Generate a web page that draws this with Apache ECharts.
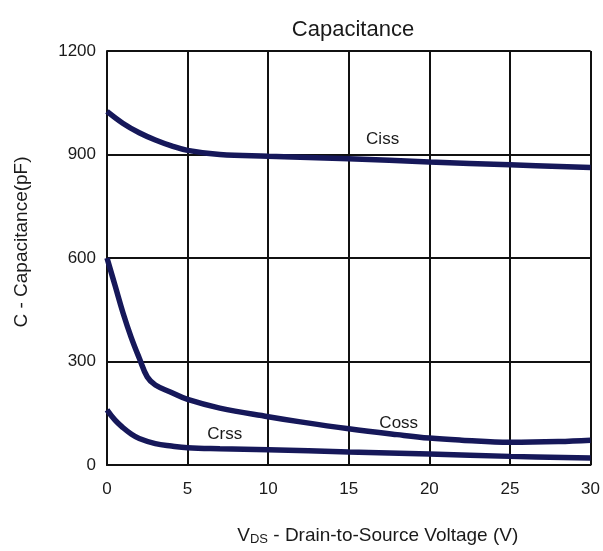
<!DOCTYPE html>
<html lang="en">
<head>
    <meta charset="UTF-8">
    <title>Capacitance</title>
    <style>
        html, body { margin: 0; padding: 0; background: #fff; }
        #chart { width: 603px; height: 551px; }
    </style>
</head>
<body>
    <div id="chart"></div>
    <script src="https://cdn.jsdelivr.net/npm/echarts@6/dist/echarts.min.js"></script>
    <script>
        // values (Vds in V, capacitance in pF)
        let cissData = [[0, 1025], [1, 990], [2, 963], [3, 942], [4, 925], [5, 912], [7, 900], [10, 895], [15, 888], [20, 878], [25, 870], [30, 862]];
        let cossData = [[0, 600], [0.5, 520], [1, 440], [1.5, 370], [2, 310], [2.5, 255], [3, 232], [4, 210], [5, 190], [7, 165], [10, 140], [12, 125], [15, 105], [18, 88], [20, 78], [22, 72], [25, 66], [28, 68], [30, 72]];
        let crssData = [[0, 160], [0.5, 130], [1, 108], [1.5, 90], [2, 77], [3, 62], [4, 55], [5, 50], [7, 47], [10, 44], [15, 38], [20, 32], [25, 25], [30, 20]];
        let curveLabels = [
            { name: 'Ciss', at: [17.1, 943] },
            { name: 'Coss', at: [18.1, 122] },
            { name: 'Crss', at: [7.3, 88] }
        ];

        let font = 'Liberation Sans, Arial, sans-serif';
        let lineColor = '#16185a';
        let textColor = '#1a1a1a';

        let myChart = echarts.init(document.getElementById('chart'));

        let makeSeries = (name, data) => {
            let lbl = curveLabels.find(l => l.name === name);
            return {
                name: name,
                type: 'line',
                data: data,
                smooth: 0.4,
                showSymbol: false,
                lineStyle: { color: lineColor, width: 5.5 },
                markPoint: {
                    symbol: 'circle',
                    symbolSize: 0,
                    label: {
                        show: true,
                        formatter: name,
                        color: textColor,
                        fontSize: 17,
                        fontFamily: font
                    },
                    data: [{ coord: lbl.at }]
                }
            };
        };

        myChart.setOption({
            animation: false,
            title: {
                text: 'Capacitance',
                left: 348,
                textAlign: 'center',
                top: 14,
                textStyle: { fontSize: 22, fontWeight: 'normal', color: textColor, fontFamily: font }
            },
            grid: { left: 107, right: 12, top: 51, bottom: 83 },
            xAxis: {
                type: 'value',
                min: 0,
                max: 30,
                interval: 5,
                name: '{t|V}{s|DS}{t| - Drain-to-Source Voltage (V)}',
                nameLocation: 'middle',
                nameGap: 61,
                nameTextStyle: {
                    padding: [0, 0, 0, 58],
                    rich: {
                        t: { fontSize: 19, color: textColor, fontFamily: font },
                        s: { fontSize: 13, color: textColor, fontFamily: font, verticalAlign: 'bottom', padding: [7, 0, 0, 0] }
                    }
                },
                axisLine: { show: true, onZero: false, lineStyle: { color: '#111', width: 2 } },
                axisTick: { show: false },
                axisLabel: { fontSize: 17, color: textColor, fontFamily: font, margin: 16 },
                splitLine: { show: true, lineStyle: { color: '#111', width: 2 } }
            },
            yAxis: {
                type: 'value',
                min: 0,
                max: 1200,
                interval: 300,
                name: 'C - Capacitance(pF)',
                nameLocation: 'middle',
                nameGap: 76,
                nameTextStyle: { fontSize: 19, color: textColor, fontFamily: font, padding: [0, 0, 0, 32] },
                axisLine: { show: true, onZero: false, lineStyle: { color: '#111', width: 2 } },
                axisTick: { show: false },
                axisLabel: { fontSize: 17, color: textColor, fontFamily: font, margin: 11, formatter: v => String(v) },
                splitLine: { show: true, lineStyle: { color: '#111', width: 2 } }
            },
            series: [
                makeSeries('Ciss', cissData),
                makeSeries('Coss', cossData),
                makeSeries('Crss', crssData)
            ]
        });
    </script>
</body>
</html>
